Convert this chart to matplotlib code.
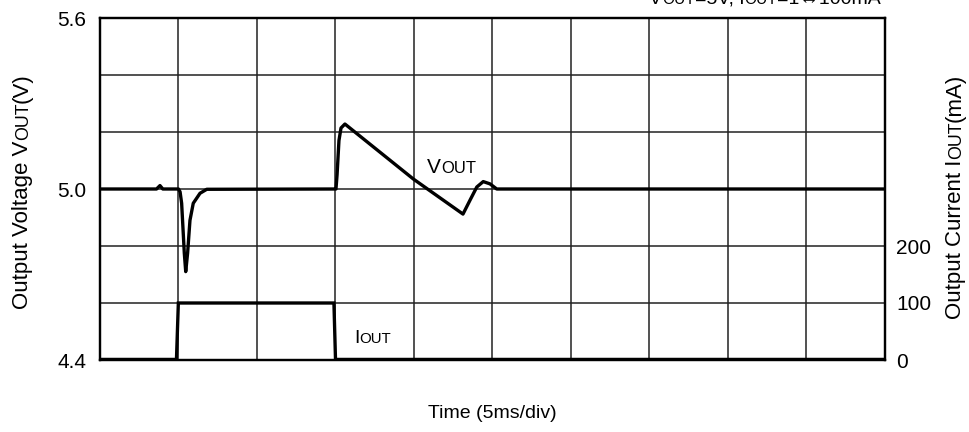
import numpy as np
import matplotlib
matplotlib.use("Agg")
import matplotlib.pyplot as plt

plt.rcParams['font.family'] = ['Liberation Sans', 'DejaVu Sans']

# Output voltage trace: time (ms) and voltage (V)
t_vout = [0.0, 3.6, 3.82, 4.0, 5.0, 5.1, 5.2, 5.37, 5.46, 5.58, 5.73, 5.94, 6.37, 6.8, 15.0,
          15.03, 15.1, 15.22, 15.35, 15.6, 19.96, 23.12, 23.57, 24.0, 24.41, 24.84, 25.27, 50.0]
v_out = [5.0, 5.0, 5.012, 5.0, 5.0, 4.99, 4.95, 4.775, 4.71, 4.775, 4.89, 4.95, 4.985, 4.999, 5.0,
         5.0, 5.05, 5.17, 5.214, 5.228, 5.035, 4.912, 4.961, 5.007, 5.026, 5.018, 5.0, 5.0]

# Load current step: time (ms) and current (mA)
t_iout = [0.0, 4.87, 4.99, 14.9, 15.0, 50.0]
i_out = [1, 1, 100, 100, 1, 1]

v_ticks = [4.4, 4.6, 4.8, 5.0, 5.2, 5.4, 5.6]
v_tick_labels = ["4.4", "", "", "5.0", "", "", "5.6"]
i_ticks = [0, 100, 200]
i_tick_labels = ["0", "100", "200"]
time_grid = np.arange(0, 51, 5)

W, H = 970, 432
TICK_FS = 15
LABEL_FS = 16

fig = plt.figure(figsize=(W / 100, H / 100), dpi=100)
ax = fig.add_axes([100 / W, 1 - 360 / H, 785 / W, 342 / H])
ax2 = ax.twinx()

ax.set_xlim(0, 50)
ax.set_ylim(4.4, 5.6)
ax2.set_ylim(0, 600)

ax.set_xticks(time_grid)
ax.set_xticklabels([])
ax.set_yticks(v_ticks)
ax.set_yticklabels(v_tick_labels, fontsize=TICK_FS)
ax.tick_params(axis='both', length=0)
ax.tick_params(axis='y', pad=10)
ax.grid(True, color='#222222', linewidth=1.1)
ax.set_axisbelow(True)

ax2.set_yticks(i_ticks)
ax2.set_yticklabels(i_tick_labels, fontsize=TICK_FS)
ax2.tick_params(axis='y', length=0, pad=8)

for a in (ax, ax2):
    for s in a.spines.values():
        s.set_linewidth(1.6)
        s.set_color('black')

ax.plot(t_vout, v_out, color='black', linewidth=2.4, solid_joinstyle='round', zorder=5)
ax2.plot(t_iout, i_out, color='black', linewidth=2.4, solid_joinstyle='miter', zorder=5)

fig.canvas.draw()
renderer = fig.canvas.get_renderer()


def mixed_text(x_px, y_px, pieces, rotation=0, align='center'):
    """Draw text made of (string, size) pieces sharing one baseline; x_px/y_px from top-left."""
    widths = []
    for s, size in pieces:
        tmp = fig.text(0, 0, s, fontsize=size)
        widths.append(tmp.get_window_extent(renderer).width)
        tmp.remove()
    total = sum(widths)
    if align == 'center':
        off = -total / 2
    elif align == 'right':
        off = -total
    else:
        off = 0
    yb = H - y_px
    for (s, size), w in zip(pieces, widths):
        if rotation == 90:
            px, py = x_px, yb + off
        else:
            px, py = x_px + off, yb
        fig.text(px / W, py / H, s, fontsize=size, rotation=rotation,
                 rotation_mode='anchor', ha='left', va='baseline')
        off += w


def small(fs):
    return fs * 0.8


mixed_text(28, 191, [("Output Voltage V", LABEL_FS), ("OUT", small(LABEL_FS)), ("(V)", LABEL_FS)],
           rotation=90)
mixed_text(961, 196, [("Output Current I", LABEL_FS), ("OUT", small(LABEL_FS)), ("(mA)", LABEL_FS)],
           rotation=90)
mixed_text(492, 418, [("Time (5ms/div)", 14)])
mixed_text(427, 173, [("V", 15), ("OUT", small(15))], align='left')
mixed_text(354, 343, [("I", 14), ("OUT", small(13.5))], align='left')
mixed_text(881, 4, [("V", 14), ("OUT", small(14)), ("=5V, I", 14), ("OUT", small(14)),
                    ("=1\u2194100mA", 14)], align='right')

fig.savefig("out.png", dpi=100)
